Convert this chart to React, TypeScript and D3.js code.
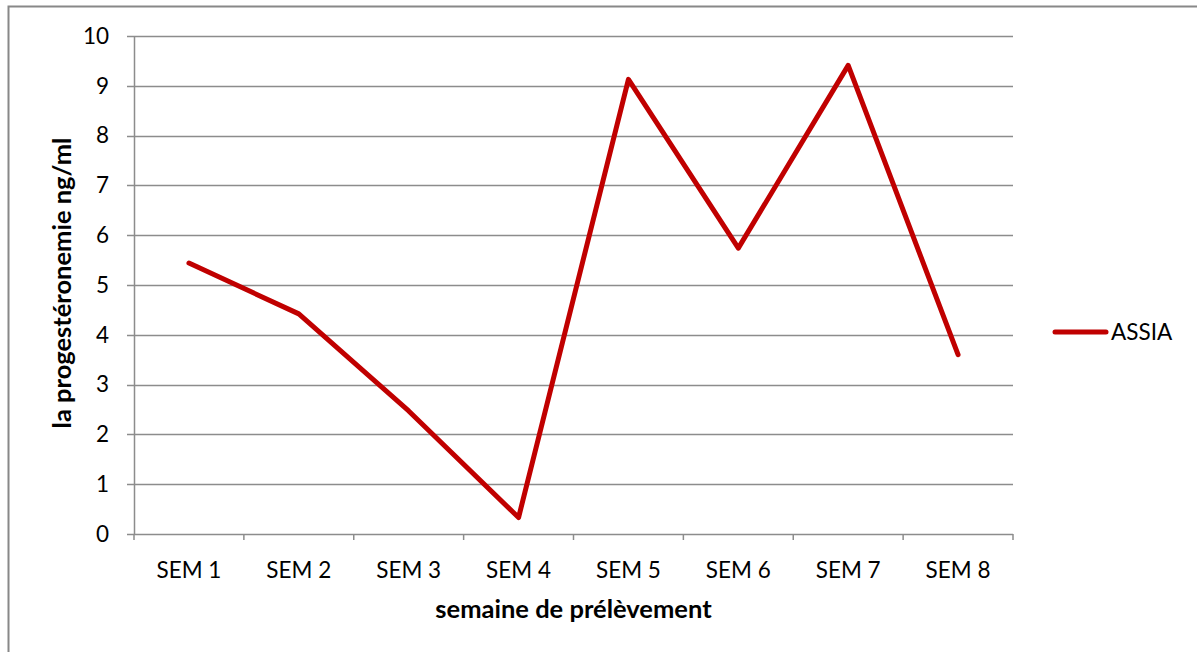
import React, { useEffect, useRef } from 'react';
import * as d3 from 'd3';

const weeks = ['SEM 1', 'SEM 2', 'SEM 3', 'SEM 4', 'SEM 5', 'SEM 6', 'SEM 7', 'SEM 8'];
const assia = [5.44, 4.42, 2.47, 0.33, 9.13, 5.74, 9.41, 3.6];
const yTicks = [0, 1, 2, 3, 4, 5, 6, 7, 8, 9, 10];

const FONT = 'Lato, sans-serif';

const App = () => {
  const ref = useRef<SVGSVGElement>(null);

  useEffect(() => {
    const svg = d3.select(ref.current);
    svg.selectAll('*').remove();

    const width = 1197;
    const height = 652;
    const margin = { top: 36, right: 184, bottom: 118, left: 134 };

    // outer chart border (only top and left visible in the frame)
    svg.append('rect')
      .attr('x', 8.5).attr('y', 6.5)
      .attr('width', width).attr('height', height)
      .attr('fill', 'none').attr('stroke', '#888').attr('stroke-width', 2);

    const x = d3.scaleBand()
      .domain(weeks)
      .range([margin.left, width - margin.right]);

    const y = d3.scaleLinear()
      .domain([0, 10])
      .range([height - margin.bottom, margin.top]);

    // gridlines
    svg.append('g')
      .selectAll('line')
      .data(yTicks)
      .join('line')
      .attr('x1', margin.left - 7)
      .attr('x2', width - margin.right)
      .attr('y1', d => Math.round(y(d)) + 0.5)
      .attr('y2', d => Math.round(y(d)) + 0.5)
      .attr('stroke', '#8c8c8c')
      .attr('stroke-width', 1.5);

    // y axis line
    svg.append('line')
      .attr('x1', margin.left + 0.5).attr('x2', margin.left + 0.5)
      .attr('y1', y(10)).attr('y2', y(0))
      .attr('stroke', '#8c8c8c').attr('stroke-width', 1.5);

    // x axis ticks
    svg.append('g')
      .selectAll('line')
      .data(d3.range(weeks.length + 1))
      .join('line')
      .attr('x1', i => margin.left + i * x.step())
      .attr('x2', i => margin.left + i * x.step())
      .attr('y1', y(0))
      .attr('y2', y(0) + 6)
      .attr('stroke', '#8c8c8c').attr('stroke-width', 1.5);

    // y tick labels
    svg.append('g')
      .selectAll('text')
      .data(yTicks)
      .join('text')
      .attr('x', margin.left - 25)
      .attr('y', d => y(d))
      .attr('dy', '0.35em')
      .attr('text-anchor', 'end')
      .style('font-family', FONT)
      .style('font-size', '22.5px')
      .text(d => d);

    // x tick labels
    svg.append('g')
      .selectAll('text')
      .data(weeks)
      .join('text')
      .attr('x', d => x(d)! + x.bandwidth() / 2)
      .attr('y', y(0) + 44)
      .attr('text-anchor', 'middle')
      .style('font-family', FONT)
      .style('font-size', '22.5px')
      .text(d => d);

    // series line
    const line = d3.line<number>()
      .x((d, i) => x(weeks[i])! + x.bandwidth() / 2)
      .y(d => y(d));

    svg.append('path')
      .datum(assia)
      .attr('d', line)
      .attr('fill', 'none')
      .attr('stroke', '#c00000')
      .attr('stroke-width', 5)
      .attr('stroke-linejoin', 'round')
      .attr('stroke-linecap', 'round');

    // legend
    svg.append('line')
      .attr('x1', 1055).attr('x2', 1106)
      .attr('y1', 332).attr('y2', 332)
      .attr('stroke', '#c00000').attr('stroke-width', 5)
      .attr('stroke-linecap', 'round');
    svg.append('text')
      .attr('x', 1111).attr('y', 332)
      .attr('dy', '0.35em')
      .style('font-family', FONT)
      .style('font-size', '22.5px')
      .text('ASSIA');

    // axis titles
    svg.append('text')
      .attr('x', (margin.left + width - margin.right) / 2)
      .attr('y', 618)
      .attr('text-anchor', 'middle')
      .style('font-family', FONT)
      .style('font-size', '25.5px')
      .style('font-weight', 'bold')
      .text('semaine de prélèvement');

    svg.append('text')
      .attr('transform', `translate(71, ${y(5) - 2}) rotate(-90)`)
      .attr('text-anchor', 'middle')
      .style('font-family', FONT)
      .style('font-size', '25.5px')
      .style('font-weight', 'bold')
      .text('la progestéronemie ng/ml');
  }, []);

  return (
    <svg
      ref={ref}
      width={1197}
      height={652}
      style={{ position: 'absolute', left: 0, top: 0, background: '#fff' }}
    />
  );
};

export default App;
